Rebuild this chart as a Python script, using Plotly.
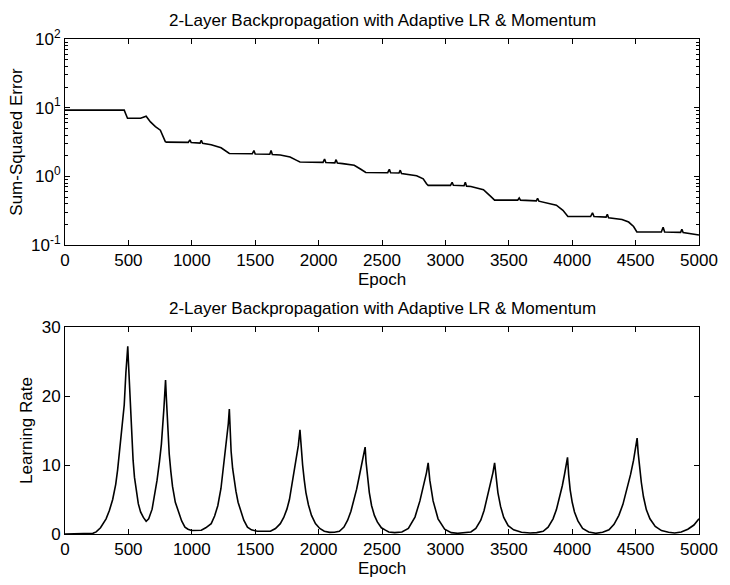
import plotly.graph_objects as go
from plotly.subplots import make_subplots

# ---- data ----
err_epoch = [0, 467, 480, 493, 596, 620, 640, 674, 713, 752, 770, 791, 800, 972, 985, 995,
             1065, 1075, 1085, 1153, 1231, 1270, 1296, 1477, 1490, 1500, 1615, 1625, 1635,
             1698, 1775, 1827, 1853, 2035, 2047, 2057, 2128, 2138, 2148, 2190, 2281, 2333,
             2372, 2545, 2558, 2568, 2634, 2644, 2654, 2773, 2825, 2851, 2864, 3040, 3053,
             3063, 3147, 3157, 3167, 3201, 3300, 3357, 3388, 3570, 3582, 3592, 3717, 3727,
             3737, 3875, 3927, 3966, 4145, 4160, 4172, 4267, 4277, 4287, 4393, 4445, 4484,
             4510, 4703, 4717, 4729, 4855, 4865, 4875, 5000]
err_value = [9.2, 9.2, 8.0, 7.0, 7.0, 7.2, 7.5, 6.2, 5.3, 4.7, 4.0, 3.2, 3.15, 3.12, 3.4, 3.1,
             3.05, 3.35, 3.02, 2.88, 2.6, 2.32, 2.15, 2.13, 2.38, 2.12, 2.1, 2.38, 2.08,
             2.05, 1.91, 1.71, 1.62, 1.6, 1.79, 1.59, 1.57, 1.75, 1.56, 1.53, 1.45, 1.27,
             1.14, 1.13, 1.27, 1.13, 1.12, 1.23, 1.10, 1.02, 0.92, 0.78, 0.74, 0.74, 0.82,
             0.74, 0.73, 0.82, 0.72, 0.71, 0.64, 0.51, 0.45, 0.45, 0.485, 0.45, 0.44, 0.48,
             0.435, 0.38, 0.32, 0.26, 0.26, 0.295, 0.26, 0.255, 0.28, 0.25, 0.235, 0.216, 0.186,
             0.155, 0.155, 0.182, 0.155, 0.153, 0.17, 0.152, 0.14]

lr_epoch = [0, 100, 194, 220, 246, 280, 324, 350, 376, 400, 415, 430, 441, 455, 467, 480,
            495, 500, 505, 518, 527, 537, 548, 562, 578, 596, 618, 640,
            660, 687, 710, 726, 745, 760, 780, 793,
            800, 810, 822, 835, 848, 870, 894, 920, 946, 970, 998, 1040,
            1075, 1110, 1153, 1180, 1205, 1230, 1257, 1270, 1288, 1296,
            1302, 1310, 1322, 1335, 1348, 1365, 1387, 1410, 1439, 1470, 1516, 1570,
            1620, 1660, 1698, 1725, 1750, 1770, 1788, 1805, 1822, 1840, 1853,
            1866, 1874, 1887, 1900, 1920, 1944, 1975, 2009, 2045, 2087, 2125,
            2164, 2200, 2229, 2255, 2281, 2300, 2320, 2340, 2355, 2367,
            2374, 2385, 2400, 2418, 2440, 2463, 2495, 2527, 2553, 2600,
            2657, 2708, 2760, 2799, 2833, 2851, 2864,
            2877, 2903, 2942, 2994, 3046, 3097, 3150,
            3201, 3240, 3279, 3305, 3331, 3355, 3375, 3388,
            3400, 3414, 3435, 3460, 3495, 3538, 3600, 3668, 3720,
            3771, 3810, 3849, 3875, 3901, 3922, 3940, 3953, 3963,
            3972, 3984, 4000, 4018, 4045, 4082, 4130, 4186, 4240,
            4290, 4330, 4368, 4400, 4432, 4460, 4484, 4500, 4512,
            4520, 4528, 4545, 4562, 4585, 4613, 4655, 4704, 4760, 4808, 4860, 4912, 4960, 5000]
lr_value = [0, 0, 0.02, 0.1, 0.3, 0.9, 2.2, 3.4, 5.0, 7.2, 9.3, 11.8, 13.9, 16.0, 18.7, 23.3,
            27.2, 25.0, 22.9, 16.3, 13.3, 10.7, 8.2, 6.0, 4.4, 3.2, 2.4, 1.85,
            2.2, 3.6, 5.8, 7.8, 10.5, 13.0, 18.2, 22.3,
            19.5, 15.0, 11.6, 9.0, 6.9, 4.6, 3.2, 1.9, 1.0, 0.7, 0.5, 0.5,
            0.55, 0.9, 1.5, 2.6, 4.1, 6.6, 10.7, 12.6, 16.0, 18.1,
            14.5, 12.0, 9.5, 7.6, 6.2, 4.6, 3.2, 2.0, 1.0, 0.6, 0.4, 0.35,
            0.4, 0.8, 1.5, 2.4, 3.6, 5.0, 6.9, 8.6, 10.7, 12.8, 15.1,
            11.4, 10.0, 7.8, 6.0, 4.2, 2.7, 1.5, 0.8, 0.4, 0.24, 0.25,
            0.4, 1.0, 2.0, 3.3, 5.0, 6.5, 8.3, 10.0, 11.2, 12.6,
            10.5, 8.3, 6.0, 4.1, 2.7, 1.75, 0.9, 0.56, 0.3, 0.2,
            0.3, 0.8, 2.45, 4.8, 7.4, 8.9, 10.3,
            7.8, 4.8, 2.2, 0.7, 0.2, 0.1, 0.15,
            0.3, 0.8, 2.0, 3.4, 5.4, 7.4, 8.9, 10.3,
            7.8, 6.0, 4.0, 2.4, 1.2, 0.6, 0.25, 0.15, 0.2,
            0.4, 1.0, 2.2, 3.5, 5.4, 7.0, 8.7, 9.9, 11.1,
            8.6, 6.4, 4.6, 3.2, 1.9, 0.8, 0.3, 0.1, 0.25,
            0.6, 1.4, 2.7, 4.3, 6.4, 8.6, 10.7, 12.3, 13.9,
            11.8, 10.2, 7.5, 5.4, 3.5, 2.2, 1.1, 0.5, 0.25, 0.15, 0.3, 0.7, 1.3, 2.2]

x_ticks = [0, 500, 1000, 1500, 2000, 2500, 3000, 3500, 4000, 4500, 5000]
err_ticks = [0.1, 1, 10, 100]
err_ticktext = ["10<sup>-1</sup>", "10<sup>0</sup>", "10<sup>1</sup>", "10<sup>2</sup>"]
err_minor = [m * d for d in (0.1, 1, 10) for m in range(2, 10)]
lr_ticks = [0, 10, 20, 30]

title_text = "2-Layer Backpropagation with Adaptive LR & Momentum"
FONT = "Liberation Sans, Arial, Helvetica, sans-serif"
FS = 17

fig = make_subplots(rows=2, cols=1)
fig.add_trace(go.Scatter(x=err_epoch, y=err_value, mode="lines",
                         line=dict(color="black", width=1.6), showlegend=False), row=1, col=1)
fig.add_trace(go.Scatter(x=lr_epoch, y=lr_value, mode="lines",
                         line=dict(color="black", width=1.6), showlegend=False), row=2, col=1)

axis_common = dict(showline=True, linecolor="black", linewidth=1, mirror="ticks",
                   ticks="inside", ticklen=5, tickcolor="black", showgrid=False,
                   zeroline=False, tickfont=dict(size=FS, color="black", family=FONT))

fig.update_xaxes(**axis_common, range=[0, 5000], tickvals=x_ticks,
                 title=dict(text="Epoch", font=dict(size=FS, color="black", family=FONT),
                            standoff=2))
fig.update_yaxes(**axis_common)

fig.update_layout(
    xaxis=dict(domain=[0, 1]),
    yaxis=dict(domain=[0.5838, 1.0], type="log", range=[-1, 2], tickvals=err_ticks,
               ticktext=err_ticktext,
               minor=dict(tickvals=err_minor, ticks="inside", ticklen=3,
                          tickcolor="black", showgrid=False),
               title=dict(text="Sum-Squared Error",
                          font=dict(size=FS, color="black", family=FONT), standoff=4)),
    xaxis2=dict(domain=[0, 1]),
    yaxis2=dict(domain=[0, 0.4181], range=[0, 30], tickvals=lr_ticks,
                title=dict(text="Learning Rate",
                           font=dict(size=FS, color="black", family=FONT), standoff=4)),
    width=730, height=585,
    margin=dict(l=65, r=22, t=39, b=39),
    paper_bgcolor="white", plot_bgcolor="white",
    font=dict(family=FONT, color="black"),
    annotations=[
        dict(text=title_text, x=0.5, y=1.0, xref="paper", yref="paper",
             xanchor="center", yanchor="bottom", yshift=7, showarrow=False,
             font=dict(size=FS, color="black", family=FONT)),
        dict(text=title_text, x=0.5, y=0.4181, xref="paper", yref="paper",
             xanchor="center", yanchor="bottom", yshift=7, showarrow=False,
             font=dict(size=FS, color="black", family=FONT)),
    ],
)

fig.write_html("out.html")
